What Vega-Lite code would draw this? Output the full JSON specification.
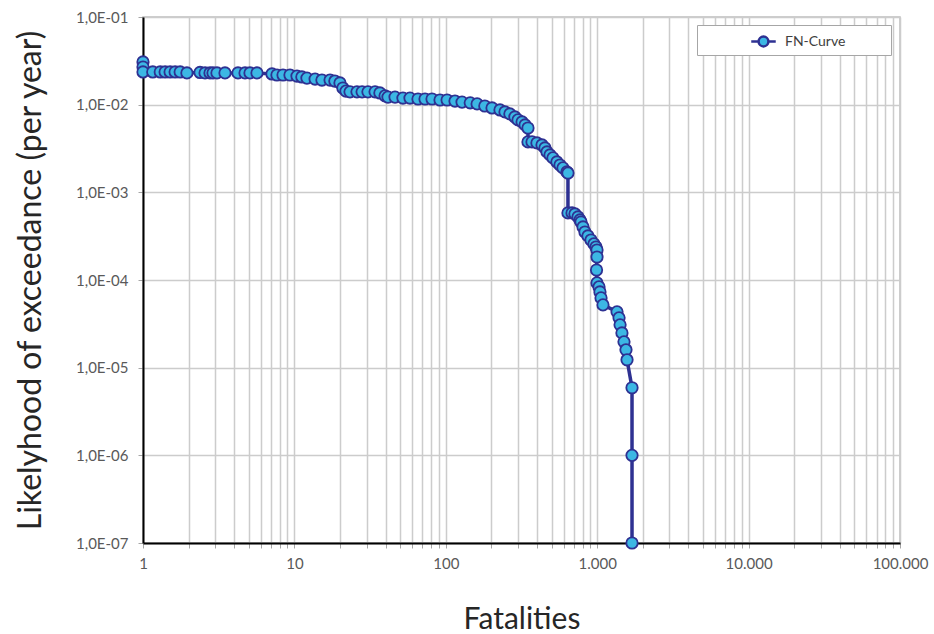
{
  "$schema": "https://vega.github.io/schema/vega-lite/v6.json",
  "autosize": {"type": "none"},
  "padding": {"left": 143, "top": 17, "right": 34, "bottom": 91},
  "width": 757,
  "height": 526,
  "background": "white",
  "config": {
    "font": "Lato",
    "view": {"stroke": "#bfbfbf", "strokeWidth": 1.5},
    "axis": {"labelFont": "Lato", "titleFont": "Lato", "labelColor": "#595959", "titleColor": "#262626", "titleFontWeight": "normal"}
  },
  "data": {
    "values": [
      {"x": 1, "y": 0.0307, "series": "FN-Curve"},
      {"x": 1, "y": 0.0269, "series": "FN-Curve"},
      {"x": 1, "y": 0.0236, "series": "FN-Curve"},
      {"x": 1.16, "y": 0.0236, "series": "FN-Curve"},
      {"x": 1.30, "y": 0.0236, "series": "FN-Curve"},
      {"x": 1.40, "y": 0.0236, "series": "FN-Curve"},
      {"x": 1.51, "y": 0.0236, "series": "FN-Curve"},
      {"x": 1.63, "y": 0.0236, "series": "FN-Curve"},
      {"x": 1.76, "y": 0.0236, "series": "FN-Curve"},
      {"x": 1.95, "y": 0.0230, "series": "FN-Curve"},
      {"x": 2.38, "y": 0.0233, "series": "FN-Curve"},
      {"x": 2.57, "y": 0.0230, "series": "FN-Curve"},
      {"x": 2.77, "y": 0.0230, "series": "FN-Curve"},
      {"x": 2.90, "y": 0.0230, "series": "FN-Curve"},
      {"x": 3.08, "y": 0.0230, "series": "FN-Curve"},
      {"x": 3.48, "y": 0.0230, "series": "FN-Curve"},
      {"x": 4.24, "y": 0.0230, "series": "FN-Curve"},
      {"x": 4.72, "y": 0.0230, "series": "FN-Curve"},
      {"x": 5.09, "y": 0.0230, "series": "FN-Curve"},
      {"x": 5.66, "y": 0.0230, "series": "FN-Curve"},
      {"x": 7.11, "y": 0.0224, "series": "FN-Curve"},
      {"x": 7.67, "y": 0.0218, "series": "FN-Curve"},
      {"x": 8.41, "y": 0.0218, "series": "FN-Curve"},
      {"x": 9.35, "y": 0.0218, "series": "FN-Curve"},
      {"x": 10.4, "y": 0.0212, "series": "FN-Curve"},
      {"x": 11.2, "y": 0.0207, "series": "FN-Curve"},
      {"x": 12.1, "y": 0.0201, "series": "FN-Curve"},
      {"x": 13.7, "y": 0.0196, "series": "FN-Curve"},
      {"x": 15.2, "y": 0.0191, "series": "FN-Curve"},
      {"x": 17.2, "y": 0.0191, "series": "FN-Curve"},
      {"x": 18.5, "y": 0.0186, "series": "FN-Curve"},
      {"x": 20.0, "y": 0.0177, "series": "FN-Curve"},
      {"x": 20.9, "y": 0.0155, "series": "FN-Curve"},
      {"x": 21.9, "y": 0.0143, "series": "FN-Curve"},
      {"x": 23.3, "y": 0.0140, "series": "FN-Curve"},
      {"x": 25.9, "y": 0.0140, "series": "FN-Curve"},
      {"x": 28.0, "y": 0.0140, "series": "FN-Curve"},
      {"x": 30.6, "y": 0.0140, "series": "FN-Curve"},
      {"x": 34.1, "y": 0.0140, "series": "FN-Curve"},
      {"x": 36.7, "y": 0.0136, "series": "FN-Curve"},
      {"x": 39.7, "y": 0.0126, "series": "FN-Curve"},
      {"x": 41.5, "y": 0.0122, "series": "FN-Curve"},
      {"x": 46.2, "y": 0.0122, "series": "FN-Curve"},
      {"x": 52.1, "y": 0.0119, "series": "FN-Curve"},
      {"x": 58.0, "y": 0.0119, "series": "FN-Curve"},
      {"x": 65.5, "y": 0.0116, "series": "FN-Curve"},
      {"x": 72.9, "y": 0.0116, "series": "FN-Curve"},
      {"x": 81.1, "y": 0.0116, "series": "FN-Curve"},
      {"x": 91.6, "y": 0.0113, "series": "FN-Curve"},
      {"x": 102, "y": 0.0113, "series": "FN-Curve"},
      {"x": 115, "y": 0.0110, "series": "FN-Curve"},
      {"x": 128, "y": 0.0107, "series": "FN-Curve"},
      {"x": 145, "y": 0.0105, "series": "FN-Curve"},
      {"x": 161, "y": 0.0102, "series": "FN-Curve"},
      {"x": 181, "y": 0.00966, "series": "FN-Curve"},
      {"x": 202, "y": 0.00917, "series": "FN-Curve"},
      {"x": 228, "y": 0.0087, "series": "FN-Curve"},
      {"x": 246, "y": 0.00826, "series": "FN-Curve"},
      {"x": 265, "y": 0.00784, "series": "FN-Curve"},
      {"x": 286, "y": 0.00724, "series": "FN-Curve"},
      {"x": 300, "y": 0.0067, "series": "FN-Curve"},
      {"x": 319, "y": 0.00635, "series": "FN-Curve"},
      {"x": 334, "y": 0.00587, "series": "FN-Curve"},
      {"x": 349, "y": 0.00542, "series": "FN-Curve"},
      {"x": 349, "y": 0.00376, "series": "FN-Curve"},
      {"x": 371, "y": 0.00376, "series": "FN-Curve"},
      {"x": 400, "y": 0.00366, "series": "FN-Curve"},
      {"x": 432, "y": 0.00347, "series": "FN-Curve"},
      {"x": 452, "y": 0.00321, "series": "FN-Curve"},
      {"x": 466, "y": 0.00289, "series": "FN-Curve"},
      {"x": 488, "y": 0.00267, "series": "FN-Curve"},
      {"x": 510, "y": 0.00247, "series": "FN-Curve"},
      {"x": 542, "y": 0.00222, "series": "FN-Curve"},
      {"x": 568, "y": 0.00205, "series": "FN-Curve"},
      {"x": 594, "y": 0.0019, "series": "FN-Curve"},
      {"x": 631, "y": 0.00171, "series": "FN-Curve"},
      {"x": 641, "y": 0.00166, "series": "FN-Curve"},
      {"x": 641, "y": 0.000582, "series": "FN-Curve"},
      {"x": 682, "y": 0.000582, "series": "FN-Curve"},
      {"x": 713, "y": 0.000567, "series": "FN-Curve"},
      {"x": 747, "y": 0.000524, "series": "FN-Curve"},
      {"x": 770, "y": 0.000484, "series": "FN-Curve"},
      {"x": 782, "y": 0.000459, "series": "FN-Curve"},
      {"x": 806, "y": 0.000403, "series": "FN-Curve"},
      {"x": 830, "y": 0.000353, "series": "FN-Curve"},
      {"x": 869, "y": 0.000318, "series": "FN-Curve"},
      {"x": 910, "y": 0.000286, "series": "FN-Curve"},
      {"x": 952, "y": 0.000258, "series": "FN-Curve"},
      {"x": 982, "y": 0.000238, "series": "FN-Curve"},
      {"x": 997, "y": 0.00022, "series": "FN-Curve"},
      {"x": 997, "y": 0.000183, "series": "FN-Curve"},
      {"x": 990, "y": 0.00013, "series": "FN-Curve"},
      {"x": 997, "y": 0.0000927, "series": "FN-Curve"},
      {"x": 1028, "y": 0.0000834, "series": "FN-Curve"},
      {"x": 1043, "y": 0.0000731, "series": "FN-Curve"},
      {"x": 1060, "y": 0.0000625, "series": "FN-Curve"},
      {"x": 1092, "y": 0.000052, "series": "FN-Curve"},
      {"x": 1352, "y": 0.0000433, "series": "FN-Curve"},
      {"x": 1394, "y": 0.000037, "series": "FN-Curve"},
      {"x": 1416, "y": 0.0000308, "series": "FN-Curve"},
      {"x": 1457, "y": 0.0000249, "series": "FN-Curve"},
      {"x": 1503, "y": 0.0000197, "series": "FN-Curve"},
      {"x": 1549, "y": 0.000016, "series": "FN-Curve"},
      {"x": 1574, "y": 0.0000123, "series": "FN-Curve"},
      {"x": 1698, "y": 0.0000059, "series": "FN-Curve"},
      {"x": 1698, "y": 0.000001, "series": "FN-Curve"},
      {"x": 1698, "y": 0.0000001, "series": "FN-Curve"}
    ]
  },
  "encoding": {
    "x": {
      "field": "x", "type": "quantitative",
      "scale": {"type": "log", "domain": [1, 100000], "nice": false},
      "axis": {
        "title": "Fatalities",
        "titleFontSize": 30, "titlePadding": 33,
        "values": [1,2,3,4,5,6,7,8,9,10,20,30,40,50,60,70,80,90,100,200,300,400,500,600,700,800,900,1000,2000,3000,4000,5000,6000,7000,8000,9000,10000,20000,30000,40000,50000,60000,70000,80000,90000,100000],
        "labelExpr": "indexof([1,10,100,1000,10000,100000], datum.value) >= 0 ? replace(format(datum.value, ','), ',', '.') : ''",
        "labelFontSize": 15, "labelPadding": 8, "labelOverlap": false, "labelFlush": false,
        "tickSize": 5, "tickColor": "#a6a6a6",
        "domainColor": "#000000", "domainWidth": 2,
        "grid": true, "gridColor": "#cccccc", "gridWidth": 1.5
      }
    },
    "y": {
      "field": "y", "type": "quantitative",
      "scale": {"type": "log", "domain": [0.0000001, 0.1], "nice": false},
      "axis": {
        "title": "Likelyhood of exceedance (per year)",
        "titleFontSize": 32, "titlePadding": 28,
        "values": [0.0000001, 0.000001, 0.00001, 0.0001, 0.001, 0.01, 0.1],
        "labelExpr": "'1,0E-0' + format(-log(datum.value)/LN10, '.0f')",
        "labelFontSize": 15, "labelPadding": 10,
        "tickSize": 5, "tickColor": "#a6a6a6",
        "domainColor": "#000000", "domainWidth": 2,
        "grid": true, "gridColor": "#cccccc", "gridWidth": 1.5
      }
    }
  },
  "layer": [
    {
      "mark": {"type": "line", "strokeWidth": 3.5},
      "encoding": {
        "order": {"value": null},
        "color": {
          "field": "series", "type": "nominal",
          "scale": {"range": ["#2E3192"]},
          "legend": {
            "title": null,
            "orient": "none", "legendX": 554, "legendY": 8,
            "strokeColor": "#a6a6a6", "fillColor": "white", "padding": 3,
            "symbolType": "M-1,0H-0.4M0.4,0H1M-0.4,0A0.4,0.4,0,1,0,0.4,0A0.4,0.4,0,1,0,-0.4,0Z",
            "symbolSize": 600, "symbolOffset": 50, "symbolStrokeWidth": 2.5,
            "labelFont": "Lato", "labelFontSize": 14, "labelColor": "#404040", "labelOffset": 8,
            "labelExpr": "datum.label + '\u2003\u2003\u2003\u2003\u200b'",
            "labelLimit": 300,
            "encode": {"symbols": {"update": {"fill": {"value": "#3CB7E4"}, "stroke": {"value": "#2E3192"}, "strokeWidth": {"value": 2.5}, "opacity": {"value": 1}}}}
          }
        }
      }
    },
    {
      "mark": {"type": "point", "filled": true, "fill": "#3CB7E4", "stroke": "#2E3192", "strokeWidth": 1.8, "size": 130, "opacity": 1}
    }
  ]
}
